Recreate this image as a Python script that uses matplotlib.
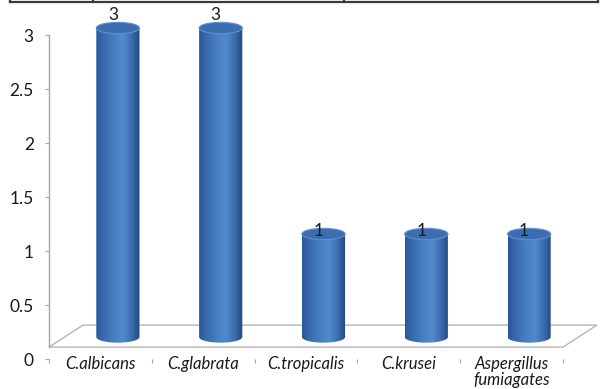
import numpy as np
import matplotlib
matplotlib.use("Agg")
import matplotlib.pyplot as plt
from matplotlib.patches import Polygon, Ellipse
from matplotlib.colors import LinearSegmentedColormap
from matplotlib.lines import Line2D
from matplotlib.transforms import offset_copy

# ---- data ----
categories = ["C.albicans", "C.glabrata", "C.tropicalis", "C.krusei", "Aspergillus\nfumiagates"]
counts = [3, 3, 1, 1, 1]
y_ticks = [0, 0.5, 1, 1.5, 2, 2.5, 3]
y_tick_labels = ["0", "0.5", "1", "1.5", "2", "2.5", "3"]

# ---- figure geometry (pixels) ----
W, H = 600, 389
plt.rcParams["font.family"] = ["Lato", "DejaVu Sans"]
fig = plt.figure(figsize=(W / 100, H / 100), dpi=100)


def px_box(left, top, right, bottom):
    return [left / W, 1 - bottom / H, (right - left) / W, (bottom - top) / H]


AXIS_GRAY = "#a6a6a6"
TEXT = "#1a1a1a"
FS = 12.5
FLOOR = 0.11            # floor level on the value axis
DEPTH = (0.066, 0.068)  # depth offset of the floor, axes fraction

# front plane: value axis and category axis
ax = fig.add_axes(px_box(49, 35, 563, 359))
ax.set_xlim(0, len(categories))
ax.set_ylim(0, 3)
ax.patch.set_alpha(0)
for s in ("top", "right", "bottom"):
    ax.spines[s].set_visible(False)
ax.spines["left"].set_color(AXIS_GRAY)
ax.spines["left"].set_linewidth(1.0)
ax.spines["left"].set_bounds(FLOOR, 3)

ax.set_yticks(y_ticks)
ax.set_yticklabels(y_tick_labels)
ax.tick_params(axis="y", direction="out", length=3, width=0.8, color=AXIS_GRAY,
               labelsize=FS, labelcolor=TEXT, pad=8)

ax.set_xticks(np.arange(len(categories) + 1))
ax.set_xticklabels([])
ax.tick_params(axis="x", which="major", direction="out", length=3, width=0.8,
               color=AXIS_GRAY)
ax.set_xticks(np.arange(len(categories)) + 0.5, minor=True)
ax.set_xticklabels(categories, minor=True, fontstyle="italic", fontsize=12,
                   color=TEXT, linespacing=1.0)
ax.tick_params(axis="x", which="minor", length=0, pad=-2)

# floor of the 3-D plot area
f = FLOOR / 3
floor = Polygon([(0, f), (1, f), (1 + DEPTH[0], f + DEPTH[1]), (DEPTH[0], f + DEPTH[1])],
                closed=True, transform=ax.transAxes, facecolor="white",
                edgecolor="#b4b4b4", linewidth=1.0, clip_on=False, zorder=0)
ax.add_patch(floor)

# bar plane (set back in depth)
y_zero_px, y_three_px = 337, 28
ppu = (y_zero_px - y_three_px) / 3
lo, hi = -0.3, 3.3
ax_b = fig.add_axes(px_box(66.5, y_three_px - (hi - 3) * ppu, 580.5, y_zero_px - lo * ppu))
ax_b.axis("off")
ax_b.patch.set_alpha(0)

cmap = LinearSegmentedColormap.from_list(
    "cyl", [(0.0, "#2a5794"), (0.12, "#3566a8"), (0.45, "#4a81c5"),
            (0.62, "#528acd"), (0.82, "#3a6cae"), (1.0, "#21477c")])
grad = np.linspace(0, 1, 256).reshape(1, -1)

bar_w = 0.42
eh = 0.11
for i, v in enumerate(counts):
    xc = i + 0.5
    x0, x1 = xc - bar_w / 2, xc + bar_w / 2
    t = np.linspace(np.pi, 2 * np.pi, 80)
    bottom = np.column_stack([xc + bar_w / 2 * np.cos(t), eh / 2 * np.sin(t)])
    verts = np.vstack([[x0, v], [x0, 0], bottom, [x1, 0], [x1, v]])
    body = Polygon(verts, closed=True, facecolor="none", edgecolor="none",
                   transform=ax_b.transData)
    ax_b.add_patch(body)
    im = ax_b.imshow(grad, cmap=cmap, extent=(x0, x1, -eh / 2, v), aspect="auto",
                     origin="lower", zorder=2, interpolation="bilinear")
    im.set_clip_path(body)
    top = Ellipse((xc, v), bar_w, eh, facecolor="#3b6db0", edgecolor="#5e90d0",
                  linewidth=0.8, zorder=3)
    ax_b.add_patch(top)
    # value label, placed on the front-plane scale
    ax_b.text(xc, v, str(v), ha="center", va="center", fontsize=FS, color=TEXT,
              transform=offset_copy(ax.transData, fig=fig, x=12.5, y=20, units="dots"),
              zorder=5)

ax_b.set_xlim(0, len(categories))
ax_b.set_ylim(lo, hi)

# table border across the top edge
top_y = 1 - 1.5 / H
fig.add_artist(Line2D([10 / W, 598 / W], [top_y, top_y], color="#3a3a3a", lw=1.6))
for xp in (10, 93, 344, 598):
    fig.add_artist(Line2D([xp / W, xp / W], [top_y, 1.0], color="#3a3a3a", lw=1.6))

fig.savefig("out.png", dpi=100)
